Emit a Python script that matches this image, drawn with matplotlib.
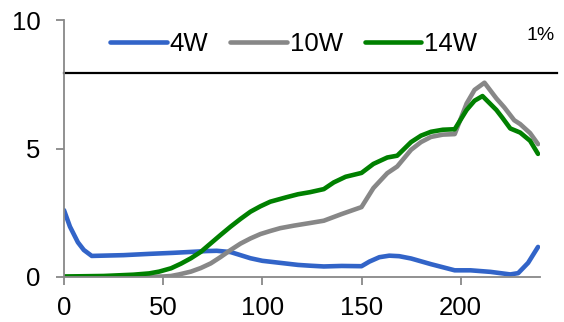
import matplotlib.pyplot as plt

plt.rcParams['font.family'] = ['Liberation Sans', 'DejaVu Sans']

# 4W
x_4w = [0, 3, 7, 10, 14, 30, 43, 55, 65, 72, 77, 84, 94, 100, 109, 118, 124, 131,
        140, 150, 154, 159, 164, 169, 175, 185, 197, 205, 215, 225, 229, 234, 239]
y_4w = [2.6, 1.96, 1.35, 1.05, 0.82, 0.85, 0.9, 0.94, 0.98, 1.01, 1.02, 0.97, 0.73,
        0.63, 0.55, 0.47, 0.44, 0.41, 0.43, 0.42, 0.6, 0.77, 0.83, 0.81, 0.72, 0.5,
        0.26, 0.26, 0.2, 0.1, 0.15, 0.55, 1.17]

# 10W
x_10w = [0, 40, 50, 54, 58, 64, 69, 74, 79, 84, 89, 94, 99, 104, 109, 116, 124, 131,
         140, 150, 156, 163, 168, 175, 180, 185, 191, 197, 203, 207, 212, 218, 222,
         227, 230, 235, 239]
y_10w = [0.0, 0.0, 0.02, 0.04, 0.1, 0.21, 0.35, 0.53, 0.78, 1.05, 1.3, 1.5, 1.67,
         1.79, 1.9, 2.0, 2.1, 2.19, 2.45, 2.72, 3.46, 4.04, 4.3, 4.95, 5.25, 5.45,
         5.54, 5.56, 6.75, 7.28, 7.56, 6.95, 6.6, 6.1, 5.95, 5.6, 5.17]

# 14W
x_14w = [0, 20, 35, 43, 48, 54, 59, 64, 69, 74, 79, 84, 89, 94, 99, 104, 112, 118,
         124, 131, 136, 142, 150, 156, 163, 168, 175, 180, 185, 191, 197, 203, 207,
         211, 218, 221, 225, 230, 235, 239]
y_14w = [0.02, 0.04, 0.09, 0.14, 0.21, 0.34, 0.52, 0.73, 0.98, 1.31, 1.64, 1.96,
         2.26, 2.54, 2.75, 2.93, 3.1, 3.22, 3.3, 3.42, 3.68, 3.9, 4.05, 4.4, 4.65,
         4.72, 5.25, 5.5, 5.65, 5.73, 5.75, 6.5, 6.86, 7.04, 6.5, 6.2, 5.78, 5.62,
         5.3, 4.79]

ref_level = 7.92

fig = plt.figure(figsize=(5.64, 3.22), dpi=100)
ax = fig.add_axes([64 / 564, 45 / 322, 476 / 564, 257 / 322])

lw = 3.3
ax.plot(x_4w, y_4w, color='#3264c8', lw=lw, label='4W', solid_capstyle='round', solid_joinstyle='round')
ax.plot(x_10w, y_10w, color='#878787', lw=lw, label='10W', solid_capstyle='round', solid_joinstyle='round')
ax.plot(x_14w, y_14w, color='#008000', lw=lw, label='14W', solid_capstyle='round', solid_joinstyle='round')
ax.plot([0, 248.5], [ref_level, ref_level], color='black', lw=1.6, clip_on=False)

ax.set_xlim(0, 240)
ax.set_ylim(0, 10)
ax.set_xticks([0, 50, 100, 150, 200])
ax.set_yticks([0, 5, 10])

for side in ['top', 'right']:
    ax.spines[side].set_visible(False)
for side in ['left', 'bottom']:
    ax.spines[side].set_color('#888888')
    ax.spines[side].set_linewidth(1.3)
ax.tick_params(axis='both', colors='#888888', labelcolor='black', labelsize=18.5,
               length=6, width=1.3, direction='out')
ax.tick_params(axis='y', pad=11)
ax.tick_params(axis='x', pad=8)

leg = fig.legend(loc='center left', bbox_to_anchor=(110 / 564, 1 - 44 / 322),
                 ncol=3, frameon=False, fontsize=18.5, handlelength=2.2,
                 handletextpad=0.12, columnspacing=0.85, borderpad=0,
                 borderaxespad=0)

fig.text(526 / 564, 1 - 36 / 322, '1%', fontsize=14, va='center', ha='left')

fig.savefig('out.png', dpi=100)
